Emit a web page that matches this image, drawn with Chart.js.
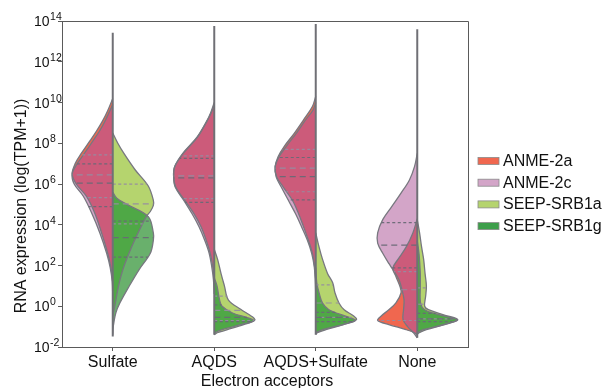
<!DOCTYPE html>
<html><head><meta charset="utf-8">
<script src="https://cdn.jsdelivr.net/npm/chart.js@4.4.1/dist/chart.umd.min.js"></script>
<style>html,body{margin:0;padding:0;background:#fff}#wrap{width:605px;height:388px}</style>
</head><body><div id="wrap"><canvas id="c" width="605" height="388"></canvas></div>
<script>
const FONT = '"Liberation Sans", Arial, Helvetica, sans-serif';
const categories = ['Sulfate', 'AQDS', 'AQDS+Sulfate', 'None'];
const seriesNames = ['ANME-2a', 'ANME-2c', 'SEEP-SRB1a', 'SEEP-SRB1g'];
const yTicks = [-2, 0, 2, 4, 6, 8, 10, 12, 14];   // log10(TPM+1)
const xTitle = 'Electron acceptors';
const yTitle = 'RNA expression (log(TPM+1))';

// Density profiles per category: [log10 expression, relative half-width]
const anme2a = [
  [[10.2,0],[9.6,0.05],[9.1,0.10],[8.6,0.16],[8.15,0.22],[7.5,0.31],[7.0,0.37],[6.5,0.40],[6.0,0.36],[5.4,0.26],[4.6,0.18],[3.6,0.11],[2.6,0.05],[1.9,0.018],[1.2,0]],
  [[10.0,0],[9.5,0.035],[9.1,0.073],[8.3,0.17],[7.5,0.31],[6.85,0.39],[6.35,0.40],[5.85,0.38],[5.2,0.29],[4.55,0.20],[3.9,0.13],[3.25,0.08],[2.6,0.04],[1.95,0.015],[1.3,0]],
  [[10.3,0],[9.8,0.033],[9.15,0.12],[8.5,0.21],[7.85,0.31],[7.35,0.37],[6.85,0.40],[6.35,0.385],[5.85,0.32],[5.2,0.23],[4.55,0.17],[3.9,0.12],[3.25,0.073],[2.6,0.033],[1.95,0.012],[1.3,0]],
  [[4.3,0],[3.6,0.043],[2.9,0.11],[2.3,0.19],[1.87,0.24],[1.46,0.21],[0.97,0.17],[0.65,0.16],[0.16,0.21],[-0.17,0.28],[-0.5,0.36],[-0.7,0.39],[-0.9,0.28],[-1.15,0.11],[-1.3,0.027],[-1.4,0]]
];
const anme2c = [
  [[9.9,0],[9.1,0.075],[8.6,0.13],[8.15,0.19],[7.5,0.28],[7.0,0.35],[6.5,0.40],[6.0,0.38],[5.4,0.29],[4.6,0.21],[3.6,0.127],[2.6,0.06],[1.9,0.025],[1.2,0.005],[0.5,0]],
  [[9.9,0],[9.5,0.03],[9.1,0.07],[8.3,0.165],[7.5,0.305],[6.85,0.39],[6.35,0.40],[5.85,0.385],[5.2,0.30],[4.55,0.22],[3.9,0.15],[3.25,0.095],[2.6,0.05],[1.95,0.025],[1.3,0.008],[0.6,0]],
  [[10.0,0],[9.6,0.03],[9.15,0.10],[8.5,0.19],[7.85,0.29],[7.35,0.36],[6.85,0.40],[6.35,0.39],[5.85,0.34],[5.2,0.27],[4.55,0.20],[3.9,0.14],[3.25,0.083],[2.6,0.04],[1.95,0.015],[1.3,0.005],[0.6,0]],
  [[7.5,0],[6.85,0.027],[6.2,0.077],[5.55,0.16],[4.9,0.25],[4.25,0.34],[3.6,0.39],[3.1,0.39],[2.6,0.34],[2.1,0.28],[1.8,0.24],[1.3,0.18],[0.8,0.15],[0.3,0.13],[-0.17,0.135],[-0.66,0.14],[-1.0,0.095],[-1.3,0.037],[-1.55,0]]
];
const srb1a = [
  [[8.5,0],[8.0,0.05],[7.5,0.11],[6.7,0.22],[5.9,0.35],[5.2,0.40],[4.95,0.40],[4.65,0.37],[4.4,0.33],[3.4,0.23],[2.6,0.16],[1.8,0.10],[1.0,0.057],[0.0,0.02],[-0.5,0]],
  [[2.8,0],[2.3,0.033],[1.6,0.067],[1.0,0.10],[0.3,0.14],[-0.15,0.26],[-0.5,0.37],[-0.68,0.40],[-0.9,0.29],[-1.15,0.13],[-1.3,0.03],[-1.4,0]],
  [[3.6,0],[2.9,0.033],[2.3,0.067],[1.6,0.117],[1.15,0.167],[0.65,0.19],[0.15,0.23],[-0.17,0.28],[-0.5,0.38],[-0.66,0.40],[-0.9,0.27],[-1.15,0.10],[-1.3,0.017],[-1.38,0]],
  [[4.25,0],[3.6,0.023],[2.9,0.043],[2.3,0.063],[1.6,0.077],[1.0,0.09],[0.5,0.083],[0.0,0.073],[-0.17,0.11],[-0.42,0.26],[-0.66,0.40],[-0.9,0.27],[-1.15,0.09],[-1.3,0.02],[-1.38,0]]
];
const srb1g = [
  [[5.6,0],[5.3,0.04],[5.0,0.14],[4.4,0.35],[3.6,0.40],[3.25,0.40],[2.6,0.37],[1.8,0.26],[0.97,0.16],[0.16,0.07],[-0.33,0.03],[-1.0,0.005],[-1.4,0]],
  [[1.4,0],[1.0,0.027],[0.3,0.053],[0.0,0.077],[-0.33,0.18],[-0.58,0.34],[-0.72,0.39],[-0.9,0.26],[-1.07,0.13],[-1.23,0.03],[-1.35,0]],
  [[1.9,0],[1.15,0.01],[0.65,0.033],[0.15,0.067],[-0.17,0.13],[-0.5,0.30],[-0.7,0.39],[-0.9,0.27],[-1.15,0.067],[-1.28,0.01],[-1.33,0]],
  [[3.2,0],[2.6,0.017],[1.6,0.03],[1.0,0.03],[0.15,0.033],[-0.17,0.073],[-0.42,0.22],[-0.66,0.39],[-0.9,0.26],[-1.15,0.057],[-1.28,0.01],[-1.33,0]]
];
// quartiles [Q1, median, Q3] per category
const q_anme2a = [[5.33,6.45,7.43],[5.28,6.4,7.38],[5.62,6.78,7.7],[-0.7,0.81,1.7]];
const q_anme2c = [[4.89,6.04,6.99],[5.1,6.3,7.26],[5.22,6.36,7.3],[1.88,3.0,4.1]];
const q_srb1a  = [[4.04,5.02,5.99],[-0.7,-0.2,0.5],[-0.55,0.16,1.05],[-0.62,0.1,0.9]];
const q_srb1g  = [[2.41,3.37,4.18],[-0.75,-0.55,0.07],[-0.75,-0.55,-0.3],[-0.75,-0.62,-0.35]];
// full data range (min, max) of each category
const rangeMin = [-1.48, -1.4, -1.4, -1.55];
const rangeMax = [13.42, 13.75, 13.85, 13.6];

const colors = {
  anme2a: '#F0674F', anme2c: '#D3A5C8', pinkOverlap: '#CC5B7A',
  srb1a: '#B5D46E', srb1g: '#69B06C', greenOverlap: '#4FA846'
};
const legendColors = ['#F0674F', '#D3A5C8', '#B5D46E', '#3D9E4A'];
const EDGE = '#77777f';
const T = 0.35;

function widthAt(profile, v) {
  for (let i = 0; i < profile.length - 1; i++) {
    const [v0, w0] = profile[i], [v1, w1] = profile[i + 1];
    if (v <= v0 && v >= v1) return w0 + (w1 - w0) * (v0 - v) / (v0 - v1);
  }
  return 0;
}
function pts(profile, pos, dir) { return profile.map(([v, w]) => ({x: pos + dir * w, y: v})); }

const datasets = [];
let seq = 0;
function add(ds) {
  ds.order = 10000 - (seq++);
  ds.showLine = true; ds.pointRadius = 0; ds.pointHoverRadius = 0;
  if (ds.tension === undefined) ds.tension = T;
  datasets.push(ds);
  return datasets.length - 1;
}

const sides = [
  {a: anme2a, b: anme2c, qa: q_anme2a, qb: q_anme2c, dir: -1, ca: colors.anme2a, cb: colors.anme2c, co: colors.pinkOverlap},
  {a: srb1a, b: srb1g, qa: q_srb1a, qb: q_srb1g, dir: 1, ca: colors.srb1a, cb: colors.srb1g, co: colors.greenOverlap}
];
categories.forEach((cat, c) => {
  sides.forEach(s => {
    const pa = pts(s.a[c], c, s.dir), pb = pts(s.b[c], c, s.dir);
    const ia = add({data: pa, fill: 'shape', backgroundColor: s.ca, borderWidth: 0});
    add({data: pb, fill: 'shape', backgroundColor: s.cb, borderWidth: 0, clipWith: ia});
    add({data: pb, fill: 'shape', backgroundColor: s.co, borderWidth: 0, clipEnd: true});
    add({data: pa, fill: false, borderColor: EDGE, borderWidth: 1.3});
    add({data: pb, fill: false, borderColor: EDGE, borderWidth: 1.3});
    [[s.a[c], s.qa[c], 'rgba(150,140,160,0.95)'], [s.b[c], s.qb[c], 'rgba(105,105,118,0.95)']].forEach(([prof, qs, col]) => {
      qs.forEach((q, k) => {
        const w = widthAt(prof, q);
        add({data: [{x: c, y: q}, {x: c + s.dir * w, y: q}], fill: false, tension: 0,
             borderColor: col, borderWidth: 1.2, borderDash: k === 1 ? [6, 4] : [3, 2.5]});
      });
    });
  });
});
categories.forEach((cat, c) => {
  add({data: [{x: c, y: rangeMin[c]}, {x: c, y: rangeMax[c]}], fill: false, tension: 0,
       borderColor: '#707076', borderWidth: 2});
});

const clipPlugin = {
  id: 'overlapClip',
  afterDatasetDraw(chart, args) {
    const ds = chart.data.datasets[args.index];
    const ctx = chart.ctx;
    if (ds.clipEnd) ctx.restore();
    if (ds.clipWith !== undefined) {
      const el = chart.getDatasetMeta(ds.clipWith).dataset;
      ctx.save();
      el.updateControlPoints(chart.chartArea, 'y');
      ctx.beginPath();
      el.path(ctx);
      ctx.closePath();
      ctx.clip();
    }
  }
};

const decorPlugin = {
  id: 'decor',
  afterDraw(chart) {
    const ctx = chart.ctx, a = chart.chartArea, ys = chart.scales.y;
    ctx.save();
    // top & right spines
    ctx.strokeStyle = '#5a5a5a'; ctx.lineWidth = 1;
    ctx.beginPath();
    ctx.moveTo(a.left, a.top + 0.5); ctx.lineTo(a.right + 0.5, a.top + 0.5); ctx.lineTo(a.right + 0.5, a.bottom);
    ctx.stroke();
    // y tick labels 10^n
    ctx.fillStyle = '#111';
    ctx.textAlign = 'left'; ctx.textBaseline = 'alphabetic';
    yTicks.forEach(v => {
      const py = ys.getPixelForValue(v);
      ctx.font = '14px ' + FONT;
      ctx.fillText('10', 34, py + 5);
      const w = ctx.measureText('10').width;
      ctx.font = '10.5px ' + FONT;
      ctx.fillText(String(v), 34 + w + 0.5, py - 1);
    });
    // axis titles
    ctx.font = '16px ' + FONT;
    ctx.textAlign = 'center'; ctx.textBaseline = 'alphabetic';
    ctx.fillText(xTitle, (a.left + a.right) / 2 + 2, 386);
    ctx.save();
    ctx.translate(26, 206); ctx.rotate(-Math.PI / 2);
    ctx.fillText(yTitle, 0, 0);
    ctx.restore();
    // legend
    ctx.textAlign = 'left'; ctx.textBaseline = 'middle';
    seriesNames.forEach((name, i) => {
      const y = 161 + i * 21.7;
      ctx.fillStyle = legendColors[i];
      ctx.fillRect(478, y - 3.5, 21, 7);
      ctx.strokeStyle = '#8a8a8a'; ctx.lineWidth = 0.8;
      ctx.strokeRect(478, y - 3.5, 21, 7);
      ctx.fillStyle = '#111';
      ctx.fillText(name, 503, y + 0.5);
    });
    ctx.restore();
  }
};

new Chart(document.getElementById('c'), {
  type: 'scatter',
  data: {datasets},
  plugins: [clipPlugin, decorPlugin],
  options: {
    responsive: false, animation: false, indexAxis: 'y', devicePixelRatio: 1,
    layout: {padding: {left: 0, right: 137, top: 21, bottom: 0}},
    plugins: {legend: {display: false}, tooltip: {enabled: false}},
    events: [],
    scales: {
      x: {
        type: 'linear', min: -0.5, max: 3.5,
        afterBuildTicks: s => { s.ticks = categories.map((_, i) => ({value: i})); },
        afterFit: s => { s.height = 41; },
        grid: {drawOnChartArea: false, drawTicks: true, tickLength: 4, color: '#5a5a5a'},
        border: {color: '#5a5a5a', width: 1},
        ticks: {callback: v => categories[v], font: {family: FONT, size: 16}, color: '#111', padding: 2, autoSkip: false, maxRotation: 0}
      },
      y: {
        type: 'linear', min: -2, max: 14,
        afterBuildTicks: s => { s.ticks = yTicks.map(v => ({value: v})); },
        afterFit: s => { s.width = 62; },
        grid: {drawOnChartArea: false, drawTicks: true, tickLength: 4, color: '#5a5a5a'},
        border: {color: '#5a5a5a', width: 1},
        ticks: {display: false}
      }
    }
  }
});
</script>
</body></html>
